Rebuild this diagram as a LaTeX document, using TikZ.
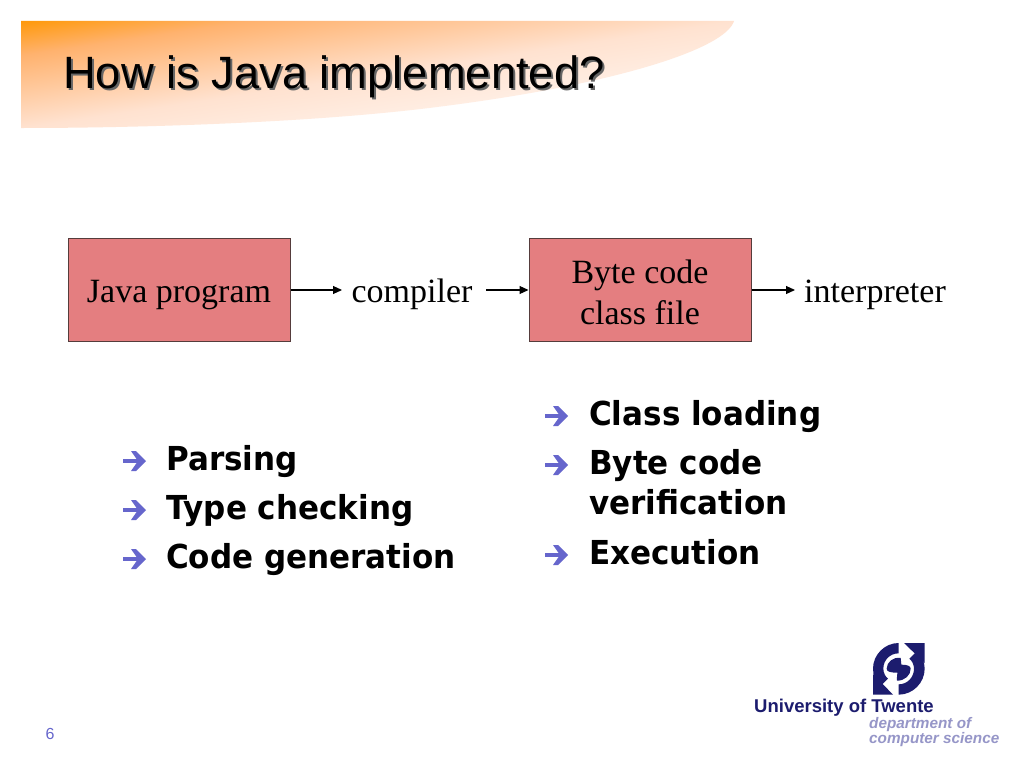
\documentclass[tikz,border=0pt]{standalone}
\usepackage{fontspec}
\setmainfont{Liberation Serif}
\newfontfamily\titlefont{Liberation Sans}
\newfontfamily\bulletfont{DejaVu Sans}
\usetikzlibrary{arrows.meta}
\definecolor{boxfill}{RGB}{228,126,128}
\definecolor{boxline}{RGB}{85,60,60}
\definecolor{bullblue}{RGB}{102,102,204}
\definecolor{utblue}{RGB}{28,28,110}
\definecolor{utlight}{RGB}{150,150,200}
\definecolor{orangeA}{RGB}{255,153,10}
\definecolor{orangeB}{RGB}{255,178,110}
\definecolor{peach}{RGB}{255,226,208}
\pgfdeclarehorizontalshading{bandshade}{100bp}{
  color(0bp)=(orangeA); color(25bp)=(orangeA); color(33bp)=(orangeB);
  color(50bp)=(peach); color(75bp)=(white); color(100bp)=(white)}
\tikzset{
  boxnode/.style={draw=boxline,line width=1pt,fill=boxfill,minimum width=222pt,minimum height=103pt,inner sep=0pt,align=center,font=\fontsize{34}{41}\selectfont},
  plainlabel/.style={inner sep=0pt,font=\fontsize{34}{41}\selectfont},
  conn/.style={line width=1.1pt,-{Triangle[length=9pt,width=8pt]}},
  bulltext/.style={anchor=base west,inner sep=0pt,align=left,xscale=0.94,font=\bulletfont\bfseries\fontsize{33}{40}\selectfont},
  bullmark/.pic={
    \fill[bullblue] (0,-2.3) -- (16,-2.3) -- (16,2.3) -- (0,2.3) -- cycle;
    \fill[bullblue] (8,-10) -- (13,-10) -- (23,0) -- (13,10) -- (8,10) -- (15,0) -- cycle;
  },
}
\begin{document}
\begin{tikzpicture}[x=1pt,y=-1pt]
\useasboundingbox (0,0) rectangle (1024,768);
\fill[white] (0,0) rectangle (1024,768);
% title band
\begin{scope}
\clip (21,21) -- (734,21) .. controls (726,48) and (620,84) .. (437,107) .. controls (320,122) and (150,128) .. (21,128) -- cycle;
\begin{scope}[transform canvas={cm={7.13,-1.07,7.13,1.07,(21pt,-21pt)}}]
\shade[shading=bandshade] (0pt,-50pt) rectangle (100pt,50pt);
\end{scope}
\end{scope}
\node[anchor=base west,inner sep=0pt,text=black!60,font=\titlefont\fontsize{45.3}{50}\selectfont] (titleshadow) at (65,90.5) {How is Java implemented?};
\node[anchor=base west,inner sep=0pt,font=\titlefont\fontsize{45.3}{50}\selectfont] (title) at (63,88.5) {How is Java implemented?};
% diagram
\node[boxnode] (java) at (179,290) {\raisebox{-12pt}[0pt][0pt]{Java program}};
\node[plainlabel,anchor=base] (comp) at (412,302) {compiler};
\node[boxnode] (byte) at (640,290) {\raisebox{-12.5pt}[0pt][0pt]{\begin{tabular}{@{}c@{}}Byte code\\class file\end{tabular}}};
\node[plainlabel,anchor=base] (interp) at (875,302) {interpreter};
\coordinate (c0) at (342,290);
\draw[conn] (java.east) -- (c0);
\coordinate (c1) at (486,290);
\draw[conn] (c1) -- (byte.west);
\coordinate (c2) at (795,290);
\draw[conn] (byte.east) -- (c2);
% left list
\pic at (123,461) {bullmark};
\pic at (123,510) {bullmark};
\pic at (123,559) {bullmark};
\node[bulltext] (t1) at (166,470) {Parsing};
\node[bulltext] (t2) at (166,519) {Type checking};
\node[bulltext] (t3) at (166,568) {Code generation};
% right list
\pic at (545,416) {bullmark};
\pic at (545,465) {bullmark};
\pic at (545,555) {bullmark};
\node[bulltext] (t4) at (589,425) {Class loading};
\node[bulltext] (t5) at (589,474) {Byte code};
\node[bulltext] (t5b) at (589,514) {verification};
\node[bulltext] (t6) at (589,564) {Execution};
% page number
\node[anchor=base,inner sep=0pt,text=bullblue,font=\titlefont\fontsize{16}{18}\selectfont] (page) at (50,739) {6};
% logo: coordinates are those of a 3x crop with origin (868,638)
\begin{scope}[shift={(868,638)},x=0.3333pt,y=-0.3333pt]
\fill[utblue] (108,15) -- (170,15) -- (170,75) -- cycle;
\fill[utblue] (15,108) -- (15,170) -- (75,170) -- cycle;
\fill[utblue] (15,92) .. controls (15,50) and (50,15) .. (92,15) -- (92,46) .. controls (66,46) and (46,66) .. (46,92) .. controls (46,104) and (52,116) .. (60,122) -- (36,146) .. controls (23,132) and (15,113) .. (15,92) -- cycle;
\fill[utblue] (170,92) .. controls (170,134) and (135,170) .. (92,170) -- (92,139) .. controls (118,139) and (138,118) .. (138,92) .. controls (138,80) and (132,68) .. (124,62) -- (148,38) .. controls (161,52) and (170,71) .. (170,92) -- cycle;
\fill[utblue] (98,60) .. controls (76,56) and (56,72) .. (56,92) .. controls (56,100) and (64,104) .. (88,104) .. controls (88,118) and (84,128) .. (88,128) .. controls (110,128) and (128,112) .. (128,92) .. controls (128,84) and (118,80) .. (100,80) -- cycle;
\end{scope}
\node[anchor=base west,inner sep=0pt,text=utblue,font=\titlefont\bfseries\fontsize{18.5}{20}\selectfont] (uni) at (754,712) {University of Twente};
\node[anchor=base west,inner sep=0pt,text=utlight,font=\titlefont\bfseries\itshape\fontsize{15.3}{18}\selectfont] (dep) at (869,728) {department of};
\node[anchor=base west,inner sep=0pt,text=utlight,font=\titlefont\bfseries\itshape\fontsize{15.3}{18}\selectfont] (cs) at (869,743) {computer science};
\end{tikzpicture}
\end{document}
